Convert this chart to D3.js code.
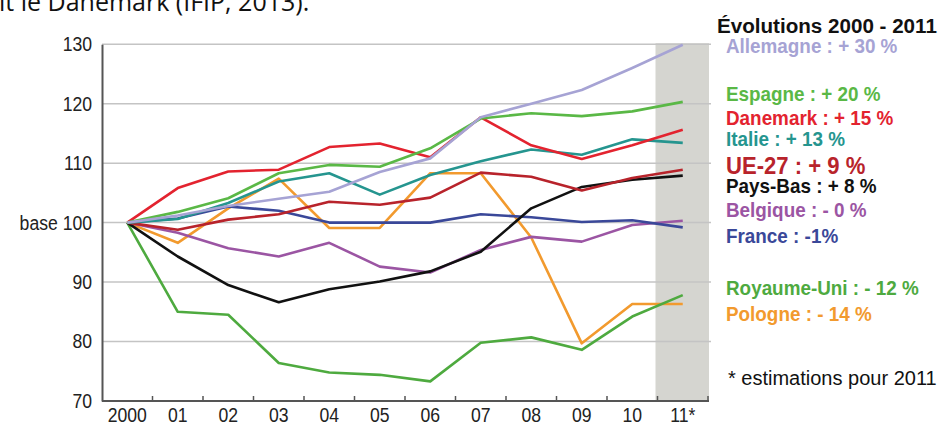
<!DOCTYPE html>
<html><head><meta charset="utf-8">
<script src="https://cdn.jsdelivr.net/npm/d3@7"></script>
<style>
body{margin:0;background:#fff;}
svg{display:block;}
</style></head>
<body>
<svg id="c" width="942" height="427"></svg>
<script>
const years = ["2000","01","02","03","04","05","06","07","08","09","10","11*"];
const yTicks = [70,80,90,100,110,120,130];
const names = ["Allemagne","Espagne","Danemark","Italie","UE-27","Pays-Bas","Belgique","France","Royaume-Uni","Pologne"];
const allemagne  = [100,101.2,102.8,104,105.2,108.5,110.8,117.7,120,122.3,126,129.9];
const espagne    = [100,101.8,104.1,108.3,109.7,109.4,112.5,117.5,118.4,117.9,118.7,120.3];
const danemark   = [100,105.8,108.6,108.9,112.7,113.3,111,117.7,113,110.7,113,115.6];
const italie     = [100,100.6,103.3,106.9,108.3,104.7,108,110.3,112.3,111.4,114,113.4];
const ue27       = [100,98.8,100.5,101.4,103.5,103,104.2,108.4,107.7,105.4,107.5,108.9];
const paysBas    = [100,94.3,89.5,86.6,88.8,90.1,91.8,95.1,102.4,106,107.2,107.9];
const belgique   = [100,98.3,95.7,94.3,96.6,92.6,91.6,95.4,97.6,96.8,99.6,100.3];
const france     = [100,100.7,102.7,102,100,100,100,101.4,100.9,100.1,100.4,99.2];
const royaumeUni = [100,85,84.5,76.4,74.8,74.4,73.3,79.8,80.7,78.6,84.2,87.8];
const pologne    = [100,96.6,102.4,107.4,99.1,99.1,108.3,108.3,97.5,79.7,86.3,86.3];
const legendTexts = ["Allemagne : + 30 %","Espagne : + 20 %","Danemark : + 15 %","Italie : + 13 %","UE-27 : + 9 %","Pays-Bas : + 8 %","Belgique : - 0 %","France : -1%","Royaume-Uni : - 12 %","Pologne : - 14 %"];
const colors = ["#a6a3d4","#5ab846","#e3232f","#25958f","#b8232b","#111111","#9b55a3","#3a4899","#4eaa3f","#f29a2e"];
const seriesValues = [allemagne,espagne,danemark,italie,ue27,paysBas,belgique,france,royaumeUni,pologne];

const svg = d3.select("#c");
const font = "'Liberation Sans',Arial,sans-serif";
function condense(sel, f){
  sel.each(function(){
    const w = this.getComputedTextLength();
    d3.select(this).attr("textLength", w*f).attr("lengthAdjust","spacingAndGlyphs");
  });
}

// header text (cut)
svg.append("text").attr("x",-1).attr("y",11).attr("font-family","'Open Sans',sans-serif")
  .attr("font-size",25).attr("fill","#111").text("it le Danemark (IFIP, 2013).");

const x = d3.scaleBand().domain(years).range([102,708]).padding(0);
const y = d3.scaleLinear().domain([70,130]).range([401,44.2]);

// grey estimate band
svg.append("rect").attr("x",x("11*")-2).attr("y",y(130)-1).attr("width",x.bandwidth()+3)
  .attr("height",y(70)-y(130)+1).attr("fill","#d5d5d0");

// gridlines
svg.append("g").selectAll("line").data(yTicks.filter(d=>d>70)).join("line")
  .attr("x1",102).attr("x2",711).attr("y1",d=>y(d)).attr("y2",d=>y(d))
  .attr("stroke","#c4c4c4").attr("stroke-width",1.5);

// y axis
const yAxis = svg.append("g").attr("transform","translate(102,0)")
  .call(d3.axisLeft(y).tickValues(yTicks).tickSize(0).tickPadding(10)
    .tickFormat(d=> d===100 ? "base 100" : d));
yAxis.select(".domain").attr("stroke","#555").attr("stroke-width",2);
yAxis.selectAll("text").attr("font-family",font).attr("font-size",20).attr("fill","#222");
condense(yAxis.selectAll("text"), 0.88);

// x axis
const xAxis = svg.append("g").attr("transform","translate(0,401)")
  .call(d3.axisBottom(x).tickSize(0).tickPadding(7));
xAxis.select(".domain").attr("stroke","#555").attr("stroke-width",2).attr("d","M102,0H709");
xAxis.selectAll("text").attr("font-family",font).attr("font-size",20).attr("fill","#222");
condense(xAxis.selectAll("text"), 0.88);
svg.append("g").selectAll("line").data(years.slice(1).concat(["end"])).join("line")
  .attr("x1",d=> d==="end" ? 708 : x(d)).attr("x2",d=> d==="end" ? 708 : x(d))
  .attr("y1",401).attr("y2",396).attr("stroke","#555").attr("stroke-width",1.5);

// lines
const line = d3.line().x((d,i)=>x(years[i])+x.bandwidth()/2).y(d=>y(d));
const order = [9,8,6,7,5,4,3,2,1,0];
svg.append("g").selectAll("path").data(order).join("path")
  .attr("d",k=>line(seriesValues[k])).attr("fill","none")
  .attr("stroke",k=>colors[k]).attr("stroke-width",2.6).attr("stroke-linejoin","round");

// legend
const title = svg.append("text").attr("x",717).attr("y",33).attr("font-family",font).attr("font-weight","bold")
  .attr("font-size",20).attr("fill","#111").text("Évolutions 2000 - 2011");
condense(title, 1.03);
const legY = [53,101,125,146,174,193,217,243,295,321];
const leg = svg.append("g").selectAll("text").data(legendTexts).join("text")
  .attr("x",726).attr("y",(d,i)=>legY[i]).attr("font-family",font).attr("font-weight","bold")
  .attr("font-size",(d,i)=> i===4 ? 24 : 20.5).attr("fill",(d,i)=>colors[i]).text(d=>d);
condense(leg, 0.92);
const est = svg.append("text").attr("x",728).attr("y",385).attr("font-family",font)
  .attr("font-size",20).attr("fill","#111").text("* estimations pour 2011");
condense(est, 1.0);
</script>
</body></html>
